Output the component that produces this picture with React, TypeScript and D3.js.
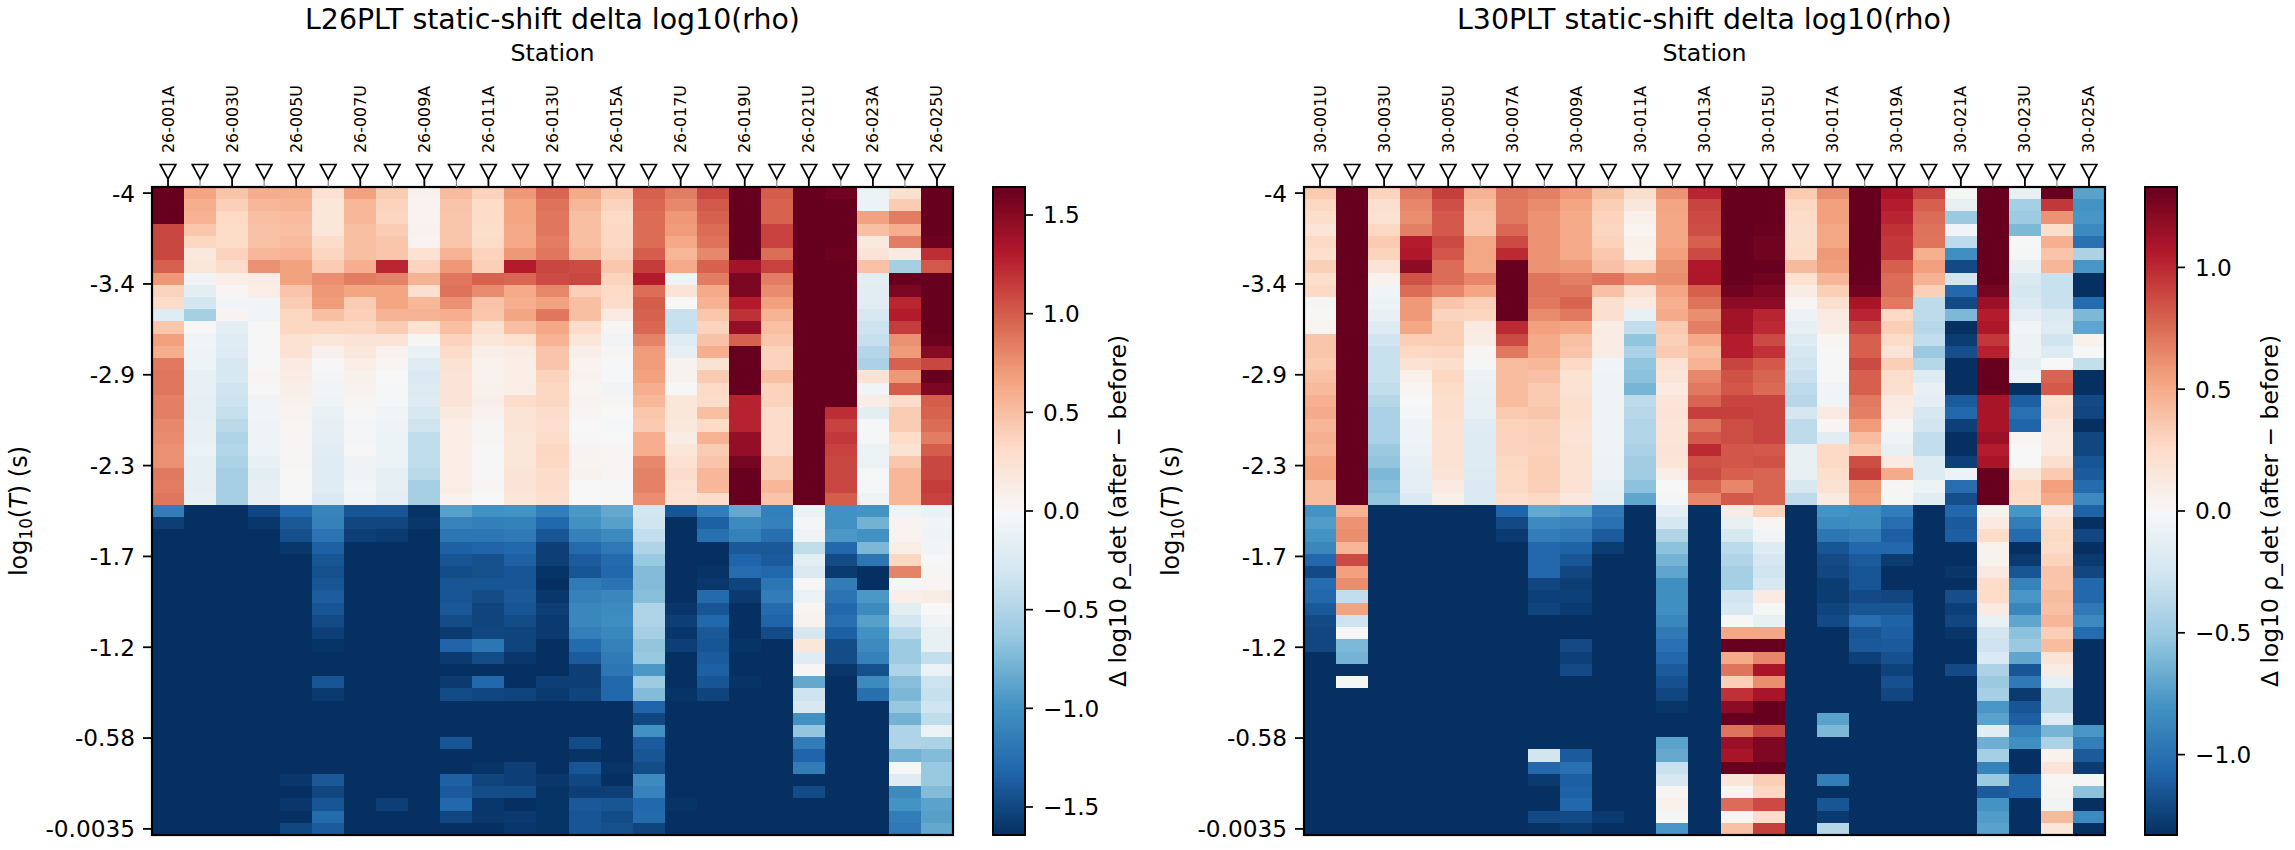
import React from "react";
import * as d3 from "d3";

const labels26 = ["26-001A","26-003U","26-005U","26-007U","26-009A","26-011A","26-013U","26-015A","26-017U","26-019U","26-021U","26-023A","26-025U"];
const labels30 = ["30-001U","30-003U","30-005U","30-007A","30-009A","30-011A","30-013A","30-015U","30-017A","30-019A","30-021A","30-023U","30-025A"];
const periodTicks = ["-4","-3.4","-2.9","-2.3","-1.7","-1.2","-0.58","-0.0035"];
const cbTicks26 = [-1.5,-1,-0.5,0,0.5,1,1.5];
const cbTicks30 = [-1,-0.5,0,0.5,1];
const limit26 = 1.642;
const limit30 = 1.33;
const rdbu = ["#053061","#2166ac","#4393c3","#92c5de","#d1e5f0","#f7f7f7","#fddbc7","#f4a582","#d6604d","#b2182b","#67001f"];

// One array per station, 53 periods from top to bottom. 2 and -2 stand for cells saturated past the colour limit.
const a01 = [2,2,2,1.1,1.1,1.1,.98,.72,.38,.3,-.2,.45,.68,.6,.87,.88,.88,.84,.84,.8,.78,.75,.75,.87,.85,.88,
 -1.15,-1.55,-2,-2,-2,-2,-2,-2,-2,-2,-2,-2,-2,-2,-2,-2,-2,-2,-2,-2,-2,-2,-2,-2,-2,-2,-2];
const a02 = [.65,.6,.58,.45,.35,.18,.2,-.05,-.17,-.3,-.55,-.01,-.05,-.08,-.08,-.12,-.12,-.15,-.15,-.12,-.12,-.1,-.15,-.15,-.15,-.12,
 -1.7,-2,-2,-2,-2,-2,-2,-2,-2,-2,-2,-2,-2,-2,-2,-2,-2,-2,-2,-2,-2,-2,-2,-2,-2,-2,-2];
const a03 = [.47,.4,.33,.32,.32,.37,.3,.1,.03,-.05,.05,-.17,-.2,-.22,-.27,-.28,-.33,-.35,-.38,-.45,-.5,-.48,-.52,-.55,-.55,-.55,
 -1.7,-2,-2,-2,-2,-2,-2,-2,-2,-2,-2,-2,-2,-2,-2,-2,-2,-2,-2,-2,-2,-2,-2,-2,-2,-2,-2];
const a04 = [.6,.55,.5,.48,.48,.55,.75,.13,.12,-.05,-.05,-.01,-.01,-.01,-.01,.04,-.01,-.05,-.06,-.08,-.08,-.08,-.13,-.17,-.14,-.14,
 -1.5,-1.6,-2,-2,-2,-2,-2,-2,-2,-2,-2,-2,-2,-2,-2,-2,-2,-2,-2,-2,-2,-2,-2,-2,-2,-2,-2];
const a05 = [.6,.57,.52,.5,.52,.58,.67,.67,.47,.42,.35,.35,.25,.25,.15,.13,.1,.08,.05,.03,.03,.02,.02,-.01,-.01,-.02,
 -1.3,-1.4,-1.45,-1.6,-2,-2,-2,-2,-2,-2,-2,-2,-2,-2,-2,-2,-2,-2,-2,-2,-2,-2,-1.6,-1.65,-1.6,-1.65,-1.5];
const a06 = [.25,.2,.2,.2,.3,.36,.42,.77,.72,.7,.5,.35,.2,.08,-.01,-.03,-.06,-.07,-.11,-.14,-.16,-.18,-.2,-.2,-.2,-.25,
 -1.1,-1.12,-1.22,-1.35,-1.42,-1.45,-1.42,-1.37,-1.42,-1.48,-1.55,-1.62,-1.7,-1.7,-1.42,-1.58,-2,-2,-2,-2,-2,-2,-1.4,-1.5,-1.42,-1.28,-1.38];
const a07 = [.67,.55,.55,.5,.5,.5,.6,.85,.65,.42,.4,.35,.22,.2,.12,.08,.07,.04,-.01,-.03,-.03,-.01,-.08,-.08,-.04,-.05,
 -1.42,-1.5,-1.55,-2,-2,-2,-2,-2,-2,-2,-2,-2,-2,-2,-2,-2,-2,-2,-2,-2,-2,-2,-2,-2,-2,-2,-2];
const a08 = [.42,.38,.36,.42,.46,.46,1.25,.82,.65,.65,.57,.42,.23,.07,.04,0,-.01,-.02,-.05,-.08,-.1,-.1,-.1,-.15,-.15,-.16,
 -1.42,-1.5,-1.58,-2,-2,-2,-2,-2,-2,-2,-2,-2,-2,-2,-2,-2,-2,-2,-2,-2,-2,-2,-2,-2,-1.55,-2,-1.65];
const a09 = [.08,.05,.05,.07,.05,.25,.38,.57,.27,.55,.57,.25,.02,-.1,-.2,-.25,-.23,-.22,-.28,-.33,-.42,-.42,-.42,-.45,-.55,-.55,
 -1.62,-1.6,-1.7,-2,-2,-2,-2,-2,-2,-2,-2,-2,-2,-2,-2,-2,-2,-2,-2,-2,-2,-2,-2,-2,-2,-2,-2];
const a10 = [.52,.47,.46,.46,.46,.57,.72,.88,.9,.75,.6,.5,.37,.32,.24,.22,.22,.22,.17,.12,.12,.12,.12,.12,.12,.07,
 -.9,-1.1,-1.2,-1.35,-1.42,-1.47,-1.42,-1.42,-1.4,-1.47,-1.58,-1.33,-1.58,-1.7,-1.58,-1.48,-2,-2,-2,-1.42,-1.65,-1.7,-1.35,-1.38,-1.3,-1.5,-1.67];
const a11 = [.38,.32,.31,.29,.31,.38,.4,.98,.78,.47,.45,.27,.2,.1,.07,.07,.08,.09,.07,.02,.02,.01,.01,.01,.03,0,
 -1,-1.13,-1.2,-1.33,-1.45,-1.45,-1.42,-1.47,-1.52,-1.52,-1.5,-1.2,-1.47,-1.7,-1.3,-1.5,-2,-2,-2,-2,-2,-1.62,-1.52,-1.47,-1.6,-1.6,-1.68];
const a12 = [.72,.65,.65,.63,.63,.72,1.3,.95,.62,.6,.65,.5,.27,.13,.11,.12,.12,.3,.23,.23,.2,.2,.2,.22,.22,.2,
 -.98,-1.12,-1.17,-1.3,-1.35,-1.42,-1.42,-1.4,-1.42,-1.47,-1.52,-1.52,-1.6,-1.7,-1.7,-1.52,-2,-2,-2,-2,-2,-1.55,-1.55,-1.47,-1.8,-1.58,-1.6];
const a13 = [.95,.9,.88,.88,.85,.88,1.1,1.08,.8,.67,.88,.64,.58,.47,.47,.37,.35,.35,.3,.28,.3,.35,.34,.3,.3,.28,
 -1.15,-1.3,-1.42,-1.55,-1.55,-1.62,-1.64,-1.6,-1.55,-1.58,-1.58,-1.68,-1.7,-1.7,-1.55,-1.58,-2,-2,-2,-2,-1.66,-2,-1.6,-1.62,-1.62,-1.62,-1.62];
const a14 = [.62,.55,.5,.5,.5,.55,1.08,1.1,.4,.5,.5,.3,.2,.1,.05,.07,.04,.05,.03,0,.01,.05,.05,.06,0,0,
 -.95,-1,-1.12,-1.28,-1.38,-1.42,-1.17,-1.12,-1.07,-1.07,-1.13,-1.28,-1.38,-1.55,-1.55,-1.52,-2,-2,-2,-1.48,-1.62,-1.42,-1.5,-1.55,-1.4,-1.42,-1.42];
const a15 = [.44,.38,.33,.34,.34,.38,.45,.37,.33,.3,.15,.03,-.05,.02,-.02,-.02,-.06,.02,0,-.02,0,.03,.03,.02,.01,-.01,
 -.85,-.9,-1.05,-1.18,-1.28,-1.3,-1.22,-1.07,-1.05,-1.03,-1.07,-1.12,-1.17,-1.2,-1.3,-1.3,-2,-2,-2,-1.9,-1.65,-1.62,-1.85,-1.55,-1.42,-1.48,-1.45];
const a16 = [.98,.95,.93,.93,.93,1,1.15,1.3,.92,1,.98,.95,.82,.7,.7,.67,.6,.55,.45,.43,.6,.6,.8,.83,.83,.77,
 -.3,-.33,-.4,-.5,-.62,-.72,-.72,-.7,-.5,-.5,-.55,-.65,-.62,-.95,-.6,-.72,-1.32,-1.5,-1,-1.38,-1.42,-1.47,-1.05,-1.1,-1.3,-1.28,-1.52];
const a17 = [.85,.8,.72,.7,.63,.55,.62,-.08,.22,0,-.37,-.38,-.2,-.15,.06,.06,.01,.2,.2,.18,.13,.2,.27,.3,.27,.25,
 -1.42,-2,-2,-2,-2,-2,-2,-2,-1.6,-1.55,-1.6,-1.55,-2,-2,-2,-1.62,-2,-2,-2,-2,-2,-2,-2,-2,-1.62,-2,-2];
const a18 = [1.1,1.02,.98,.93,.9,.8,.98,.85,.62,.58,.45,.37,.48,.6,.24,.43,.33,.3,.5,.33,.58,.42,.47,.55,.55,.3,
 -1.15,-1.35,-1.25,-2,-2,-1.62,-1.6,-1.28,-1.42,-1.3,-1.4,-1.42,-1.38,-1.35,-1.42,-1.52,-2,-2,-2,-2,-2,-2,-2,-2,-2,-2,-2];
const a19 = [2,2,2,2,2,2,1.38,1.55,1.55,1.3,1.2,1.45,.98,2,2,2,2,1.27,1.27,1.27,1.45,1.45,1.58,2,2,2,
 -.85,-1.05,-1.12,-1.4,-1.32,-1.27,-1.52,-1.58,-1.7,-1.7,-1.7,-1.62,-1.7,-1.7,-1.62,-1.64,-2,-2,-2,-2,-2,-2,-2,-2,-2,-2,-2];
const a20 = [1,.97,.97,1.12,1.12,.92,1.12,.85,.78,.68,.57,.5,.45,.38,.38,.5,.37,.37,.3,.3,.3,.3,.42,.42,.55,.47,
 -1.13,-1.12,-1.25,-1.4,-1.38,-1.3,-1.2,-1.15,-1.28,-1.33,-1.48,-1.7,-2,-2,-2,-2,-2,-2,-2,-2,-2,-2,-2,-2,-2,-2,-2];
const a21 = [2,2,2,2,2,2,2,2,2,2,2,2,2,2,2,2,2,2,2,2,2,2,2,2,2,2,
 -.1,-.03,-.07,-.42,-.17,-.25,-.01,-.1,.04,.06,-.28,.2,-.2,.02,-.85,-.35,-.28,-1,-.65,-1.15,-1.32,-1.15,-2,-1.48,-2,-2,-2];
const a22 = [1.6,2,2,2,2,1.62,2,2,2,2,2,2,2,2,2,2,2,2,1.22,1.12,1.17,1.12,1.1,1.1,1.1,1,
 -1,-1,-.95,-1.3,-1.48,-1.58,-1.15,-1.22,-1.3,-1.25,-1.35,-1.47,-1.47,-1.6,-1.64,-2,-2,-2,-2,-2,-2,-2,-2,-2,-2,-2,-2];
const a23 = [-.1,-.1,.67,.5,.17,.22,.48,-.17,-.18,-.18,-.27,-.35,-.38,-.48,-.53,.25,-.05,.12,-.17,-.02,-.02,-.1,-.1,-.02,-.02,-.07,
 -.98,-.78,-1,-.75,-1.2,-2,-2,-.95,-1.05,-.9,-1,-1.05,-1.12,-1.45,-1.05,-1.25,-2,-2,-2,-2,-2,-2,-2,-2,-2,-2,-2];
const a24 = [.27,.42,.85,.6,.85,.15,-.55,2,1.55,1.25,1.3,1.15,.75,.7,.98,.72,1,.3,.42,.42,.32,.24,.45,.55,.55,.55,
 -.08,.05,.05,.12,.35,.82,-.03,.1,-.17,-.3,-.45,-.6,-.6,-.5,-.7,-.75,-.63,-.78,-.5,-.5,-.78,-.01,-.2,-1.05,-.98,-1.15,-1.18];
const a25 = [2,2,2,2,1.62,1.22,1.02,2,2,2,2,2,1.62,1.5,1.1,2,1.55,1,.97,.93,.85,1,1.1,1.1,1.15,1.12,
 -.1,-.05,-.08,-.05,-.01,.03,.03,.13,0,-.05,-.13,-.12,-.4,-.1,-.35,-.38,-.33,-.42,-.1,-.52,-.72,-.62,-.62,-.72,-.88,-.9,-.85];

const b01 = [.35,.28,.24,.17,.27,.23,.32,.24,.27,.02,-.01,.03,.37,.37,.35,.39,.43,.48,.5,.45,.48,.46,.53,.54,.42,.42,
 -.8,-.75,-.8,-.87,-1.05,-1.2,-1.03,-1.05,-1.13,-1.2,-1.22,-1.22,-2,-2,-2,-2,-2,-2,-2,-2,-2,-2,-2,-2,-2,-2,-2];
const b02 = [2,2,2,2,2,2,2,2,2,2,2,2,2,2,2,2,2,2,2,2,2,2,2,2,2,2,
 .47,.6,.62,.45,.88,.55,.62,-.33,.54,-.28,-.01,-.6,-.63,-2,-.02,-2,-2,-2,-2,-2,-2,-2,-2,-2,-2,-2,-2];
const b03 = [.3,.22,.2,.28,.35,.3,.18,.06,-.05,-.08,-.1,-.17,-.27,-.3,-.3,-.3,-.33,-.38,-.43,-.43,-.43,-.5,-.53,-.6,-.57,-.53,
 -2,-2,-2,-2,-2,-2,-2,-2,-2,-2,-2,-2,-2,-2,-2,-2,-2,-2,-2,-2,-2,-2,-2,-2,-2,-2,-2];
const b04 = [.7,.65,.62,.68,1.05,1.07,1.2,.85,.75,.58,.58,.52,.33,.28,.2,.07,.03,0,-.03,-.06,-.06,-.08,-.1,-.13,-.13,-.2,
 -2,-2,-2,-2,-2,-2,-2,-2,-2,-2,-2,-2,-2,-2,-2,-2,-2,-2,-2,-2,-2,-2,-2,-2,-2,-2,-2];
const b05 = [.92,.86,.82,.82,.88,.83,.75,.75,.65,.38,.3,.33,.33,.29,.24,.28,.26,.24,.23,.2,.2,.2,.2,.18,.12,.08,
 -2,-2,-2,-2,-2,-2,-2,-2,-2,-2,-2,-2,-2,-2,-2,-2,-2,-2,-2,-2,-2,-2,-2,-2,-2,-2,-2];
const b06 = [.47,.42,.38,.38,.52,.52,.52,.65,.53,.32,.29,.12,.1,.03,-.02,-.07,-.09,-.1,-.11,-.16,-.17,-.17,-.17,-.19,-.2,-.2,
 -2,-2,-2,-2,-2,-2,-2,-2,-2,-2,-2,-2,-2,-2,-2,-2,-2,-2,-2,-2,-2,-2,-2,-2,-2,-2,-2];
const b07 = [.72,.7,.7,.77,.88,1,2,2,2,2,2,1,.88,.7,.42,.42,.42,.42,.35,.3,.3,.3,.28,.27,.27,.24,
 -1.07,-1.2,-1.28,-2,-2,-2,-2,-2,-2,-2,-2,-2,-2,-2,-2,-2,-2,-2,-2,-2,-2,-2,-2,-2,-2,-2,-2];
const b08 = [.68,.63,.6,.6,.6,.6,.6,.72,.72,.7,.63,.55,.5,.5,.44,.4,.35,.35,.37,.32,.32,.31,.33,.33,.32,.27,
 -.68,-.85,-.92,-1.05,-1.05,-1.05,-1.22,-1.25,-1.23,-1.4,-1.4,-2,-2,-2,-2,-2,-2,-2,-2,-2,-.25,-1.05,-1.28,-2,-2,-1.2,-1.32];
const b09 = [.58,.53,.5,.5,.5,.5,.58,.68,.72,.78,.7,.52,.4,.38,.27,.2,.2,.23,.23,.2,.18,.2,.2,.2,.2,.14,
 -.72,-.88,-.95,-1.08,-1.15,-1.22,-1.26,-1.25,-1.28,-1.33,-1.33,-1.2,-1.25,-1.2,-2,-2,-2,-2,-2,-2,-1.12,-1,-1.1,-1.08,-1.05,-1.2,-1.28];
const b10 = [.4,.33,.3,.29,.31,.36,.4,.72,.4,.22,.22,.1,.1,.1,-.05,-.06,-.06,-.06,-.06,-.06,-.06,-.06,-.07,-.08,-.11,-.12,
 -.95,-1,-1.12,-1.27,-2,-2,-2,-2,-2,-2,-2,-2,-2,-2,-2,-2,-2,-2,-2,-2,-2,-2,-2,-2,-2,-1.28,-2];
const b11 = [.24,.15,.07,.03,.07,.06,.3,.6,.2,.12,-.11,-.33,-.53,-.43,-.53,-.55,-.62,-.35,-.37,-.4,-.4,-.43,-.47,-.47,-.55,-.7,
 -2,-2,-2,-2,-2,-2,-2,-2,-2,-2,-2,-2,-2,-2,-2,-2,-2,-2,-2,-2,-2,-2,-2,-2,-2,-2,-2];
const b12 = [.6,.53,.52,.52,.52,.55,.6,.62,.53,.48,.5,.35,.32,.35,.2,.17,.12,.17,.18,.17,.17,.18,.17,.09,0,-.03,
 -.13,-.24,-.4,-.55,-.63,-.7,-.82,-.82,-.82,-.87,-.95,-1,-1.05,-1.12,-1.17,-1.22,-1.3,-2,-2,-.72,-.68,-.3,-.22,.02,.06,-.03,-.78];
const b13 = [1.02,.9,.88,.87,.8,.88,1.07,1.08,.8,.72,.62,.68,.5,.42,.47,.65,.7,.78,.92,.72,.82,1,.85,.88,.78,.65,
 -2,-2,-2,-2,-2,-2,-2,-2,-2,-2,-2,-2,-2,-2,-2,-2,-2,-2,-2,-2,-2,-2,-2,-2,-2,-2,-2];
const b14 = [2,2,2,2,2,2,2,2,1.3,1.2,1.12,1.12,1.05,1.05,.9,.85,.83,.9,.92,.87,.87,.83,.83,.8,.65,.82,
 .1,-.1,-.22,-.36,-.4,-.45,-.45,-.25,-.22,-.01,.52,2,.5,.72,.33,.97,1.2,2,.72,1.15,1.1,2,.17,.03,.75,.03,.4];
const b15 = [2,2,2,1.32,1.3,1.3,1.35,1.3,1.25,1.2,1.02,1,.88,.97,.82,.78,.76,.9,.9,.9,.9,.82,.85,.78,.78,.78,
 .3,.03,-.04,-.18,-.23,-.27,-.22,.12,-.02,-.1,.52,2,.65,1.1,.62,1.1,2,2,.9,1.25,1.25,2,.33,.28,.88,.24,.92];
const b16 = [.35,.28,.25,.24,.24,.25,.43,.2,.1,.03,-.08,-.12,-.17,-.23,-.27,-.3,-.35,-.37,-.23,-.35,-.35,-.1,-.1,-.1,-.22,-.35,
 -2,-2,-2,-2,-2,-2,-2,-2,-2,-2,-2,-2,-2,-2,-2,-2,-2,-2,-2,-2,-2,-2,-2,-2,-2,-2,-2];
const b17 = [.62,.55,.55,.52,.52,.58,.56,.45,.33,.22,.12,.1,.03,-.01,-.01,-.01,-.05,-.05,.12,.03,-.15,.27,.27,.23,.2,.12,
 -.8,-.85,-.97,-1.15,-1.2,-1.22,-1.27,-1.27,-1.23,-1.2,-2,-2,-2,-2,-2,-2,-2,-.72,-.6,-2,-2,-2,-.92,-2,-1.15,-1.28,-.38];
const b18 = [2,2,2,2,2,2,2,2,1.3,1.1,1.02,.9,.8,.8,.88,.8,.8,.7,.68,.57,.42,.35,.87,.92,.58,.55,
 -.82,-.83,-.92,-1.05,-1.12,-1.15,-1.15,-1.2,-1.15,-1.02,-1.15,-1.13,-1.25,-2,-2,-2,-2,-2,-2,-2,-2,-2,-2,-2,-2,-2,-2];
const b19 = [1.1,1.05,1.02,.97,.95,.95,.8,.75,.75,.7,.27,.33,.25,.18,.33,.24,.22,.12,.1,.02,-.06,-.1,.12,.5,.02,-.02,
 -.92,-1.02,-1.1,-1.05,-1.27,-1.35,-1.35,-1.22,-1.15,-1.08,-1.1,-1.12,-1.17,-1.24,-1.17,-1.22,-2,-2,-2,-2,-2,-2,-2,-2,-2,-2,-2];
const b20 = [.9,.8,.75,.73,.72,.48,.55,.47,.32,-.35,-.35,-.37,-.33,-.5,-.38,-.18,-.1,-.13,-.22,-.25,-.33,-.33,-.18,-.18,-.07,-.15,
 -2,-2,-2,-2,-2,-2,-2,-2,-2,-2,-2,-2,-2,-2,-2,-2,-2,-2,-2,-2,-2,-2,-2,-2,-2,-2,-2];
const b21 = [-.02,-.1,-.5,-.05,-.35,-.82,-1.2,-.25,-1.05,-1.2,-.6,-2,-1.27,-1.18,-2,-2,-2,-1.12,-1.05,-1.25,-2,-2,-1.25,-.08,-1.02,-1.18,
 -1.05,-1.12,-1.1,-2,-2,-1.3,-2,-1.18,-1.25,-1.22,-1.3,-2,-2,-1.2,-2,-2,-2,-2,-2,-2,-2,-2,-2,-2,-2,-2,-2];
const b22 = [2,2,2,2,2,2,2,2,1.28,1.15,1.05,1.08,.95,1.03,2,2,2,1.1,1.1,1.1,1.15,1.05,1.1,2,2,2,
 .05,.12,.25,.05,.05,.13,.25,.25,.12,-.09,-.25,-.28,-.2,-.42,-.5,-.45,-.78,-.72,-.15,-.65,-.45,-.9,-.5,-1.12,-.8,-.75,-.72];
const b23 = [-.1,-.45,-.48,-.6,-.01,-.02,-.1,-.2,-.24,-.2,-.13,-.05,-.07,-.07,-.12,-.08,-2,-1.1,-1,-1.07,.03,0,0,.15,.27,.26,
 -.78,-.92,-1.03,-2,-1.28,-1.15,-.9,-.78,-.88,-.7,-.55,-.5,-.7,-1.15,-.95,-1.28,-1.15,-1.1,-.9,-.82,-2,-2,-1.08,-1.08,-2,-2,-2];
const b24 = [2,.95,.6,.24,.48,.38,.45,-.3,-.3,-.3,-.2,-.17,-.27,-.18,0,.78,.82,.2,.22,.14,.12,.12,.22,.35,.55,.5,
 .12,.22,.27,.25,.3,.38,.38,.42,.4,.45,.33,.42,.18,.1,-.12,-.38,-.38,-.17,-.62,-.42,.06,.18,.01,.02,-.04,.43,.16];
const b25 = [-.72,-.8,-.78,-.85,-1,-.42,-.78,-2,-2,-1.03,-.6,-.7,.06,-.01,-.32,-2,-2,-1.2,-1.22,-2,-1.22,-1.22,-1.15,-1.12,-1.03,-.85,
 -1.08,-2,-1.22,-2,-1.28,-1.22,-1.05,-1.05,-.95,-.85,-1.03,-2,-2,-2,-2,-2,-2,-2,-.78,-.92,-1.12,-1.27,-.02,-.55,-2,-.85,-2];

const stations26 = [a01,a02,a03,a04,a05,a06,a07,a08,a09,a10,a11,a12,a13,a14,a15,a16,a17,a18,a19,a20,a21,a22,a23,a24,a25];
const stations30 = [b01,b02,b03,b04,b05,b06,b07,b08,b09,b10,b11,b12,b13,b14,b15,b16,b17,b18,b19,b20,b21,b22,b23,b24,b25];

const FONT = "'DejaVu Sans', sans-serif";
const TOP = 187;
const BOTTOM = 835;
const W = 801;

function Panel({ left, title, columns, tickNames, limit, cbTicks }: any) {
  const rows = columns[0].length;
  const nCols = columns.length;
  const x = d3.scaleLinear().domain([-0.5, nCols - 0.5]).range([left, left + W]);
  const y = d3.scaleLinear().domain([-0.5, rows - 0.5]).range([TOP, BOTTOM]);
  const color = d3
    .scaleLinear<string>()
    .domain(rdbu.map((_, i) => -limit + (2 * limit * i) / 10))
    .range(rdbu)
    .interpolate(d3.interpolateRgb)
    .clamp(true);
  const cbLeft = left + W + 40;
  const cbRight = cbLeft + 32;
  const cbY = d3.scaleLinear().domain([-limit, limit]).range([BOTTOM, TOP]);
  const cbSteps = d3.range(256).map((i) => -limit + ((i + 0.5) * 2 * limit) / 256);
  const cbStep = (2 * limit) / 256;
  const yTickPos = periodTicks.map((_, i) => ((rows - 1) * i) / (periodTicks.length - 1));
  const cx = left + W / 2;
  const ylabX = left - 125;
  const cbLabX = left + W + 173;
  const midY = (TOP + BOTTOM) / 2;
  return (
    <g fontFamily={FONT} fill="#000">
      <text x={cx} y={29} fontSize={28.4} textAnchor="middle">{title}</text>
      <text x={cx} y={61} fontSize={23.7} textAnchor="middle">Station</text>
      <g shapeRendering="crispEdges">
        {columns.map((col: number[], c: number) =>
          col.map((v: number, r: number) => (
            <rect
              key={`${c}-${r}`}
              x={x(c - 0.5)}
              y={y(r - 0.5)}
              width={x(c + 0.5) - x(c - 0.5)}
              height={y(r + 0.5) - y(r - 0.5)}
              fill={color(v)}
            />
          ))
        )}
      </g>
      <rect x={left} y={TOP} width={W} height={BOTTOM - TOP} fill="none" stroke="#000" strokeWidth={2.2} />
      {columns.map((_: number[], c: number) => {
        const px = x(c);
        const major = c % 2 === 0;
        return (
          <g key={c}>
            <line x1={px} x2={px} y1={TOP} y2={178} stroke={major ? "#000" : "#777"} strokeWidth={major ? 1.8 : 1} />
            <path
              d={d3.line()([[px - 7.8, 164.5], [px + 7.8, 164.5], [px, 179]])! + "Z"}
              fill="#fff"
              stroke="#000"
              strokeWidth={1.7}
            />
            {major && (
              <text
                transform={`translate(${px},153) rotate(-90)`}
                fontSize={15.9}
                dominantBaseline="central"
              >
                {tickNames[c / 2]}
              </text>
            )}
          </g>
        );
      })}
      {periodTicks.map((t, i) => (
        <g key={t}>
          <line x1={left - 9} x2={left} y1={y(yTickPos[i])} y2={y(yTickPos[i])} stroke="#000" strokeWidth={1.8} />
          <text x={left - 17} y={y(yTickPos[i]) + 8.4} fontSize={23.2} textAnchor="end">{t}</text>
        </g>
      ))}
      <text transform={`translate(${ylabX},${midY}) rotate(-90)`} fontSize={24} textAnchor="middle">
        <tspan>log</tspan>
        <tspan dy={5} fontSize={16.8}>10</tspan>
        <tspan dy={-5}>(</tspan>
        <tspan fontStyle="italic">T</tspan>
        <tspan>) (s)</tspan>
      </text>
      <g shapeRendering="crispEdges">
        {cbSteps.map((v) => (
          <rect key={v} x={cbLeft} width={cbRight - cbLeft} y={cbY(v + cbStep / 2)} height={cbY(v - cbStep / 2) - cbY(v + cbStep / 2) + 0.5} fill={color(v)} />
        ))}
      </g>
      <rect x={cbLeft} y={TOP} width={cbRight - cbLeft} height={BOTTOM - TOP} fill="none" stroke="#000" strokeWidth={2} />
      {cbTicks.map((t: number) => (
        <g key={t}>
          <line x1={cbRight} x2={cbRight + 8} y1={cbY(t)} y2={cbY(t)} stroke="#000" strokeWidth={1.7} />
          <text x={cbRight + 18} y={cbY(t) + 8.4} fontSize={23.2}>{d3.format(".1f")(t).replace("-", "\u2212")}</text>
        </g>
      ))}
      <text transform={`translate(${cbLabX},${midY}) rotate(-90)`} fontSize={23.4} textAnchor="middle">
        {"\u0394 log10 \u03c1_det (after \u2212 before)"}
      </text>
    </g>
  );
}

export default function App() {
  return (
    <svg
      width={2295}
      height={850}
      viewBox="0 0 2295 850"
      style={{ position: "absolute", left: 0, top: 0, background: "#fff" }}
    >
      <Panel left={152} title="L26PLT static-shift delta log10(rho)" columns={stations26} tickNames={labels26} limit={limit26} cbTicks={cbTicks26} />
      <Panel left={1304} title="L30PLT static-shift delta log10(rho)" columns={stations30} tickNames={labels30} limit={limit30} cbTicks={cbTicks30} />
    </svg>
  );
}
